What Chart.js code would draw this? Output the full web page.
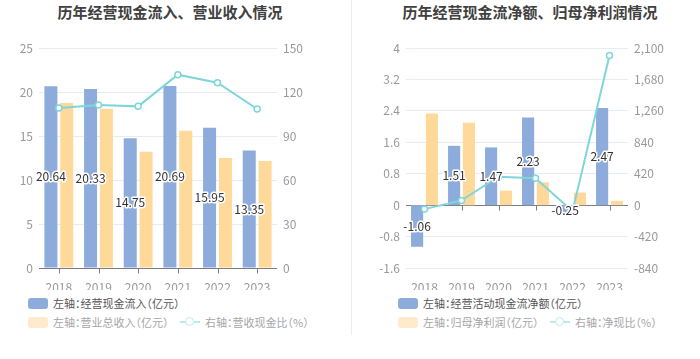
<!DOCTYPE html>
<html>
<head>
<meta charset="utf-8">
<script src="https://cdn.jsdelivr.net/npm/chart.js@4/dist/chart.umd.min.js"></script>
<style>
    body { margin: 0; background: #fff; font-family: "Noto Sans CJK SC", sans-serif; }
    #wrap { position: relative; width: 700px; height: 359px; overflow: hidden; }
    .title { position: absolute; top: 1px; font-size: 15px; font-weight: bold; color: #404040; white-space: nowrap; transform: translateX(-50%); }
    .sep { position: absolute; left: 351px; top: 0; width: 1px; height: 335px; background: #eeeeee; }
    canvas { position: absolute; top: 0; }
    .lg { position: absolute; font-size: 11px; font-feature-settings: "halt"; color: #555; white-space: nowrap; display: flex; align-items: center; height: 16px; }
    .lg.dim { color: #a5a5a5; }
    .box { display: inline-block; width: 20px; height: 11px; border-radius: 3px; margin-right: 5px; }
    .lineicon { position: relative; display: inline-block; width: 20px; height: 12px; margin-right: 5px; }
    .lineicon::before { content: ""; position: absolute; left: 0; right: 0; top: 5px; height: 2px; background: #bfeaec; }
    .lineicon::after { content: ""; position: absolute; left: 5px; top: 1px; width: 7px; height: 7px; border: 1.5px solid #bfeaec; border-radius: 50%; background: #fff; }
</style>
</head>
<body>
<div id="wrap">
    <div class="title" style="left:170px">历年经营现金流入、营业收入情况</div>
    <div class="title" style="left:530px">历年经营现金流净额、归母净利润情况</div>
    <div class="sep"></div>
    <canvas id="chartLeft" width="350" height="290" style="left:0"></canvas>
    <canvas id="chartRight" width="350" height="290" style="left:350px"></canvas>

    <div class="lg" style="left:28px; top:295px"><span class="box" style="background:#8eacdb"></span>左轴：经营现金流入（亿元）</div>
    <div class="lg dim" style="left:28px; top:314px"><span class="box" style="background:#ffeacb"></span>左轴：营业总收入（亿元）</div>
    <div class="lg dim" style="left:180px; top:314px"><span class="lineicon"></span>右轴：营收现金比（%）</div>

    <div class="lg" style="left:398px; top:295px"><span class="box" style="background:#8eacdb"></span>左轴：经营活动现金流净额（亿元）</div>
    <div class="lg dim" style="left:398px; top:314px"><span class="box" style="background:#ffeacb"></span>左轴：归母净利润（亿元）</div>
    <div class="lg dim" style="left:550px; top:314px"><span class="lineicon"></span>右轴：净现比（%）</div>
</div>
<script>
// categories
const years = ['2018', '2019', '2020', '2021', '2022', '2023'];

// left chart: cash inflow / revenue (亿元), ratio (%)
const cashInflow = [20.64, 20.33, 14.75, 20.69, 15.95, 13.35];
const totalRevenue = [18.75, 18.1, 13.2, 15.6, 12.5, 12.16];
const cashRevenueRatio = [109.1, 111.1, 110.2, 131.8, 126.3, 108.4];

// right chart: net operating cash flow / net profit (亿元), ratio (%)
const netCashFlow = [-1.06, 1.51, 1.47, 2.23, -0.25, 2.47];
const netProfit = [2.33, 2.10, 0.37, 0.58, 0.32, 0.11];
const netCashRatio = [-53, 63, 379, 361, -80, 2000];

const BLUE = '#8eacdb';
const YELLOW = '#ffd99a';
const TEAL = '#7fd6da';
const GRID = '#e6ebf5';
const TICK_COLOR = '#999';
const FONT = '"Noto Sans CJK SC", sans-serif';

/**
 * Draw value labels in the middle of bars flagged with showLabels
 */
const barLabels = {
    id: 'barLabels',
    afterDatasetsDraw(chart) {
        const ctx = chart.ctx;
        ctx.save();
        ctx.font = '12px ' + FONT;
        ctx.textAlign = 'center';
        ctx.textBaseline = 'middle';
        ctx.lineJoin = 'round';
        chart.data.datasets.forEach((ds, i) => {
            if (!ds.showLabels) return;
            const meta = chart.getDatasetMeta(i);
            meta.data.forEach((bar, j) => {
                const y = (bar.y + bar.base) / 2;
                const text = ds.data[j].toFixed(2);
                ctx.strokeStyle = '#fff';
                ctx.lineWidth = 3;
                ctx.strokeText(text, bar.x, y);
                ctx.fillStyle = '#333';
                ctx.fillText(text, bar.x, y);
            });
        });
        ctx.restore();
    }
};

/**
 * Axis line at value zero with ticks at category centers
 */
const zeroAxis = {
    id: 'zeroAxis',
    beforeDatasetsDraw(chart) {
        const ctx = chart.ctx;
        const area = chart.chartArea;
        const y = Math.round(chart.scales.y.getPixelForValue(0)) + 0.5;
        ctx.save();
        ctx.strokeStyle = '#7a7d85';
        ctx.lineWidth = 1;
        ctx.beginPath();
        ctx.moveTo(area.left, y);
        ctx.lineTo(area.right, y);
        chart.scales.x.ticks.forEach((t, i) => {
            const x = Math.round(chart.scales.x.getPixelForTick(i)) + 0.5;
            ctx.moveTo(x, y);
            ctx.lineTo(x, y + 5);
        });
        ctx.stroke();
        ctx.restore();
    }
};

function fmt(v) {
    return String(Math.round(v * 10) / 10);
}

function makeChart(canvasId, cfg) {
    const ctx = document.getElementById(canvasId).getContext('2d');
    return new Chart(ctx, {
        type: 'bar',
        data: {
            labels: years,
            datasets: [
                {
                    type: 'line',
                    label: cfg.lineLabel,
                    data: cfg.line,
                    yAxisID: 'y1',
                    order: 0,
                    borderColor: TEAL,
                    borderWidth: 2,
                    pointRadius: 3,
                    pointBorderWidth: 1.5,
                    pointBackgroundColor: '#fff',
                    pointBorderColor: TEAL,
                    tension: 0
                },
                {
                    label: cfg.barLabel1,
                    data: cfg.bar1,
                    yAxisID: 'y',
                    order: 1,
                    backgroundColor: BLUE,
                    showLabels: true,
                    categoryPercentage: 0.8,
                    barPercentage: 0.82
                },
                {
                    label: cfg.barLabel2,
                    data: cfg.bar2,
                    yAxisID: 'y',
                    order: 1,
                    backgroundColor: YELLOW,
                    categoryPercentage: 0.8,
                    barPercentage: 0.82
                }
            ]
        },
        options: {
            responsive: false,
            animation: false,
            layout: { padding: { top: 48, left: 0, right: 0, bottom: 0 } },
            plugins: {
                legend: { display: false },
                tooltip: { enabled: false }
            },
            scales: {
                x: {
                    grid: { display: false },
                    border: { display: false },
                    ticks: { color: TICK_COLOR, font: { family: FONT, size: 12 }, padding: 4 },
                    afterFit(scale) { scale.height = 22; }
                },
                y: {
                    position: 'left',
                    min: cfg.yMin,
                    max: cfg.yMax,
                    grid: { color: GRID, drawTicks: false },
                    border: { display: false },
                    ticks: {
                        stepSize: cfg.yStep,
                        color: TICK_COLOR,
                        padding: 6,
                        font: { family: FONT, size: 12 },
                        callback: v => fmt(v)
                    },
                    afterFit(scale) { scale.width = cfg.leftWidth; }
                },
                y1: {
                    position: 'right',
                    min: cfg.y1Min,
                    max: cfg.y1Max,
                    grid: { display: false, drawTicks: false },
                    border: { display: false },
                    ticks: {
                        stepSize: cfg.y1Step,
                        color: TICK_COLOR,
                        padding: 6,
                        font: { family: FONT, size: 12 },
                        callback: v => Math.round(v).toLocaleString('en-US')
                    },
                    afterFit(scale) { scale.width = cfg.rightWidth; }
                }
            }
        },
        plugins: [zeroAxis, barLabels]
    });
}

makeChart('chartLeft', {
    bar1: cashInflow,
    bar2: totalRevenue,
    line: cashRevenueRatio,
    barLabel1: '左轴：经营现金流入（亿元）',
    barLabel2: '左轴：营业总收入（亿元）',
    lineLabel: '右轴：营收现金比（%）',
    yMin: 0, yMax: 25, yStep: 5,
    y1Min: 0, y1Max: 150, y1Step: 30,
    leftWidth: 39, rightWidth: 73
});

makeChart('chartRight', {
    bar1: netCashFlow,
    bar2: netProfit,
    line: netCashRatio,
    barLabel1: '左轴：经营活动现金流净额（亿元）',
    barLabel2: '左轴：归母净利润（亿元）',
    lineLabel: '右轴：净现比（%）',
    yMin: -1.6, yMax: 4, yStep: 0.8,
    y1Min: -840, y1Max: 2100, y1Step: 420,
    leftWidth: 56, rightWidth: 72
});
</script>
</body>
</html>
